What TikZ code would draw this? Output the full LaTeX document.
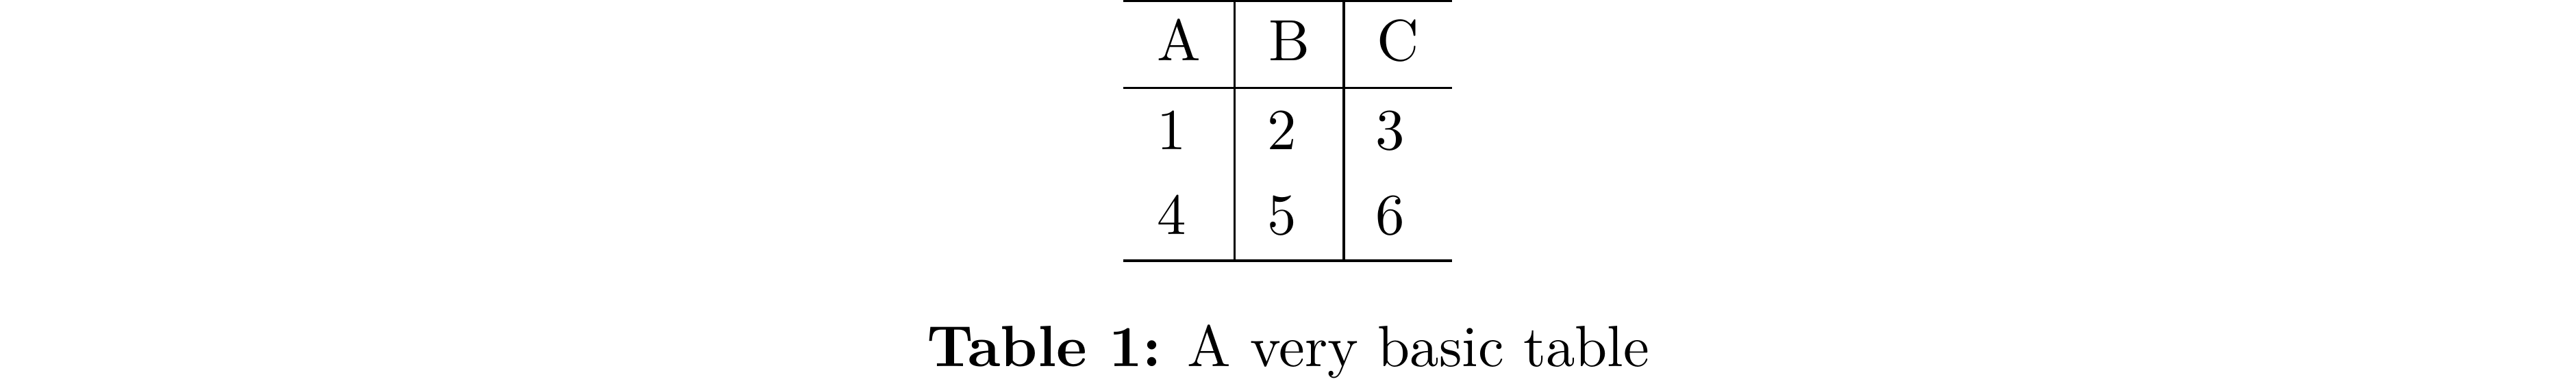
\documentclass[tikz,border=0pt]{standalone}
\usepackage{tikz}
\usepackage{amsmath}
\usetikzlibrary{positioning}

\begin{document}
\begin{tikzpicture}[x=1pt,y=1pt,line width=0.4pt,cell/.style={anchor=base,inner sep=0pt}]
\useasboundingbox (0,0) rectangle (443,-66.67);
%---------------------Horizontal Rules------------------%
\coordinate (topL) at (193.2,-0.2);
\coordinate (topR) at (249.7,-0.2);
\coordinate (midL) at (193.2,-15.15);
\coordinate (midR) at (249.7,-15.15);
\coordinate (botL) at (193.2,-44.9);
\coordinate (botR) at (249.7,-44.9);
\draw (topL) -- (topR);
\draw (midL) -- (midR);
\draw (botL) -- (botR);
%--------------------------------------------------------%

%---------------------Vertical Rules------------------%
\coordinate (sepAt) at (212.3,0);
\coordinate (sepAb) at (212.3,-45.1);
\coordinate (sepBt) at (231.1,0);
\coordinate (sepBb) at (231.1,-45.1);
\draw (sepAt) -- (sepAb);
\draw (sepBt) -- (sepBb);
%--------------------------------------------------------%

%---------------------Header------------------%
\node[cell] (hA) at (202.7,-10.48) {A};
\node[cell] (hB) at (221.7,-10.48) {B};
\node[cell] (hC) at (240.4,-10.48) {C};

%---------------------Rows------------------%
\node[cell] (r1a) at (201.5,-25.7) {1};
\node[cell] (r1b) at (220.5,-25.7) {2};
\node[cell] (r1c) at (239.1,-25.7) {3};
\node[cell] (r2a) at (201.5,-40.4) {4};
\node[cell] (r2b) at (220.5,-40.4) {5};
\node[cell] (r2c) at (239.1,-40.4) {6};
%--------------------------------------------------------%

%---------------------Caption------------------%
\node[cell] (caption) at (221.55,-63.13) {\textbf{Table 1:} A very basic table};
\end{tikzpicture}
\end{document}
